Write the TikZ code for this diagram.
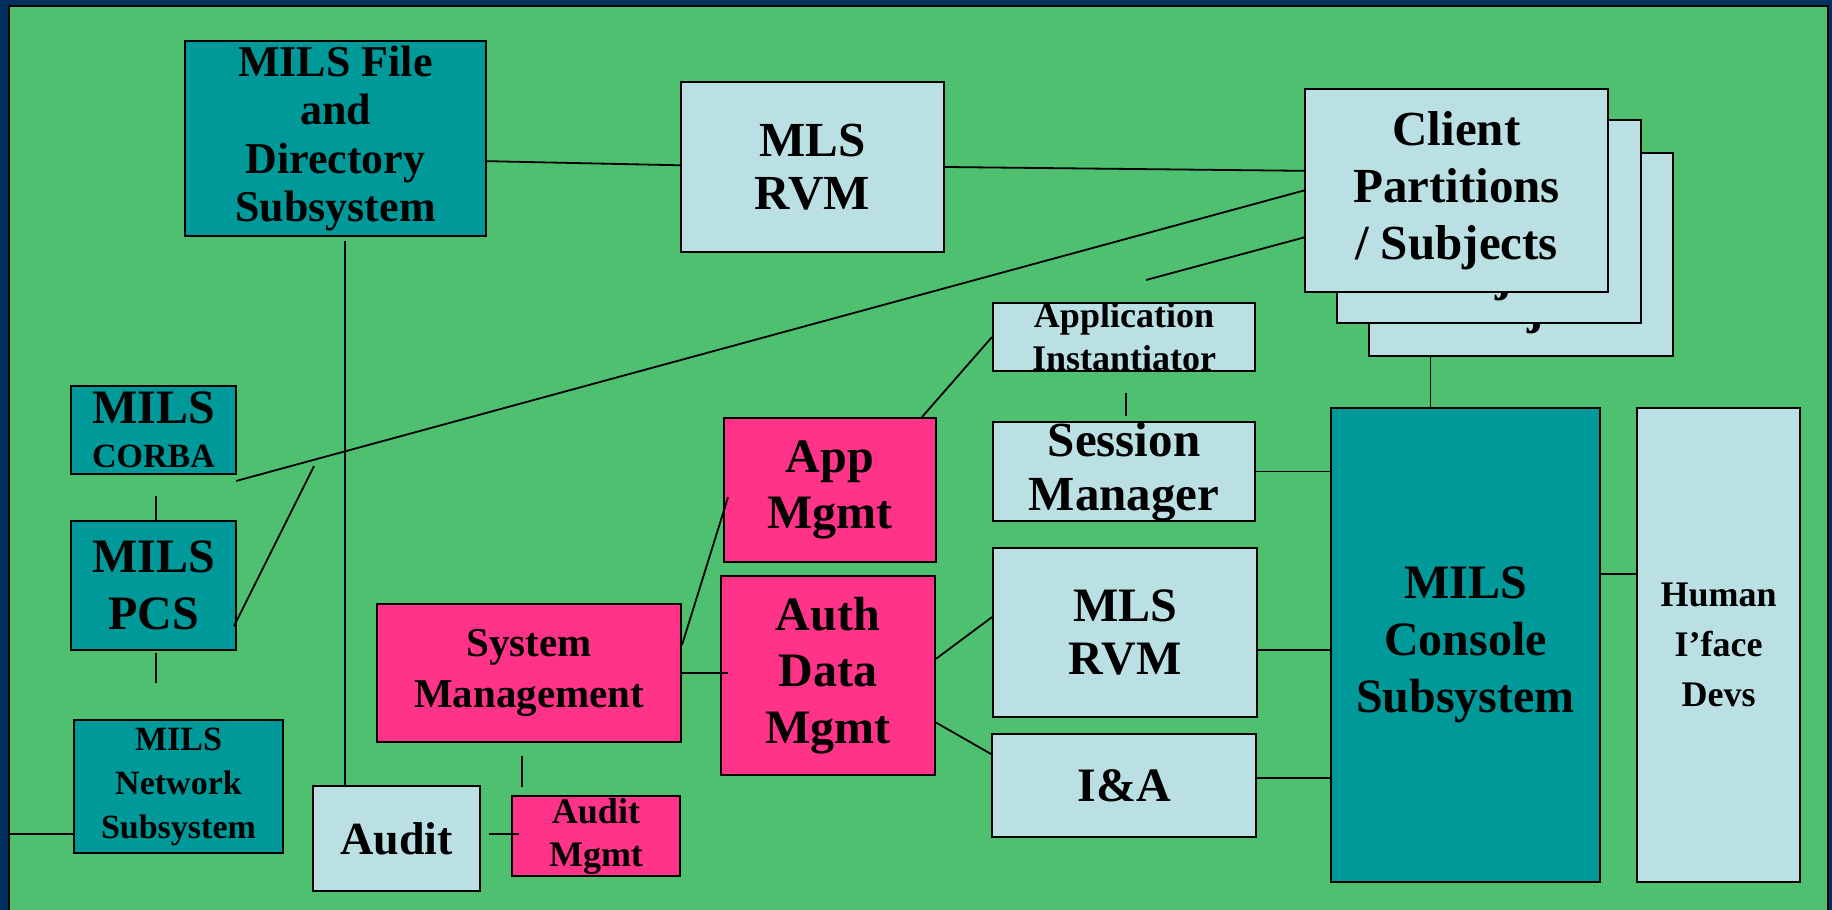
\documentclass[tikz,border=0pt]{standalone}
\usepackage{fontspec}
\setmainfont{Liberation Serif}
\usetikzlibrary{calc}
\definecolor{navyframe}{HTML}{00305E}
\definecolor{bggreen}{HTML}{4EC070}
\definecolor{tealfill}{HTML}{009999}
\definecolor{lightfill}{HTML}{BBE0E3}
\definecolor{pinkfill}{HTML}{FF3388}
\newcommand\setfs[2]{\fontsize{#1pt}{#2pt}\selectfont\bfseries}
\begin{document}
\begin{tikzpicture}[x=0.5pt,y=-0.5pt,
  box/.style={draw=black, line width=1pt, inner sep=0pt, align=center, text=black},
  tealbox/.style={box, fill=tealfill},
  lightbox/.style={box, fill=lightfill},
  pinkbox/.style={box, fill=pinkfill},
  wire/.style={draw=black, line width=0.9pt},
]
% frame and background
\useasboundingbox (0,0) rectangle (1832,910);
\clip (0,0) rectangle (1832,910);
\fill[navyframe] (0,0) rectangle (1832,910);
\filldraw[fill=bggreen, draw=black, line width=1pt] (9,6) rectangle (1828,930);

% file subsystem and top RVM
\node[tealbox, minimum width=150.5pt, minimum height=97.5pt, font={\setfs{22}{24.3}}] (file) at (335.5,138.5) {MILS File\\and\\Directory\\Subsystem};
\node[lightbox, minimum width=131.5pt, minimum height=85pt, font={\setfs{24.5}{26.5}}] (rvmtop) at (812.5,167) {MLS\\RVM};

% stacked client partitions
\node[lightbox, minimum width=152pt, minimum height=101.5pt, font={\setfs{24.5}{28.5}}] (client3) at (1521,254.5) {Client\\Partitions\\/ Subjects};
\node[lightbox, minimum width=152pt, minimum height=101.5pt, font={\setfs{24.5}{28.5}}] (client2) at (1489,221.5) {Client\\Partitions\\/ Subjects};
\node[lightbox, minimum width=151.5pt, minimum height=101.5pt, font={\setfs{24.5}{28.5}}] (client1) at (1456.5,190.5) {Client\\Partitions\\/ Subjects};

\node[lightbox, minimum width=131pt, minimum height=33pt, font={\setfs{18}{21.5}}] (inst) at (1124,337) {Application\\Instantiator};

% left column
\node[tealbox, minimum width=82.5pt, minimum height=44pt, font={\setfs{24}{22}}] (corba) at (153.5,430) {MILS\\{\setfs{17}{22}CORBA}};
\node[tealbox, minimum width=82.5pt, minimum height=64.5pt, font={\setfs{24}{28.5}}] (pcs) at (153.5,585.5) {MILS\\PCS};
\node[tealbox, minimum width=104.5pt, minimum height=66.5pt, font={\setfs{17}{22}}] (net) at (178.5,786.5) {MILS\\Network\\Subsystem};

% audit
\node[lightbox, minimum width=83.5pt, minimum height=52.5pt, font={\setfs{23}{26}}] (audit) at (396.5,838.5) {Audit};
\node[pinkbox, minimum width=84pt, minimum height=40pt, font={\setfs{18}{21.5}}] (auditm) at (596,836) {Audit\\Mgmt};

% management
\node[pinkbox, minimum width=152pt, minimum height=69pt, font={\setfs{20.5}{25.5}}] (sysm) at (529,673) {System\\Management};
\node[pinkbox, minimum width=106pt, minimum height=72pt, font={\setfs{24}{28}}] (appm) at (830,490) {App\\Mgmt};
\node[pinkbox, minimum width=107pt, minimum height=99.5pt, font={\setfs{24}{28.25}}] (auth) at (828,675.5) {Auth\\Data\\Mgmt};

% middle column
\node[lightbox, minimum width=131pt, minimum height=47.5pt, font={\setfs{24.5}{27}}] (sess) at (1124,471.5) {Session\\Manager};
\node[lightbox, minimum width=132pt, minimum height=84.5pt, font={\setfs{24}{26.5}}] (rvm2) at (1125,632.5) {MLS\\RVM};
\node[lightbox, minimum width=132pt, minimum height=51.5pt, font={\setfs{24}{28}}] (ia) at (1124,785.5) {I\&A};

% console and devices
\node[tealbox, minimum width=134.5pt, minimum height=237pt, font={\setfs{24}{28.5}}] (console) at (1465.5,645) {MILS\\Console\\Subsystem};
\node[lightbox, minimum width=81.5pt, minimum height=237pt, font={\setfs{18}{25}}] (human) at (1718.5,645) {Human\\I’face\\Devs};

% connectors
\draw[wire] ($(file.north east)!0.615!(file.south east)$) -- ($(rvmtop.north west)!0.49!(rvmtop.south west)$);
\draw[wire] (rvmtop.east) -- ($(client1.north west)!0.404!(client1.south west)$);
\coordinate (corbaend) at (236,481);
\draw[wire] (client1.west) -- (corbaend);
\coordinate (instlead) at (1146,280);
\draw[wire] ($(client1.north west)!0.729!(client1.south west)$) -- (instlead);
\coordinate (pcslead) at (314,466);
\draw[wire] ($(pcs.north east)!0.81!(pcs.south east)+(-3,0)$) -- (pcslead);
\coordinate (corbatail) at (156,496);
\draw[wire] (corbatail) -- (corbatail |- pcs.north);
\coordinate (pcstailA) at (156,653);
\coordinate (pcstailB) at (156,683);
\draw[wire] (pcstailA) -- (pcstailB);
\coordinate (leftedge) at (9,834);
\draw[wire] (leftedge) -- (leftedge -| net.west);
\coordinate (filetail) at (345,241);
\draw[wire] (filetail) -- (filetail |- audit.north);
\coordinate (auditlead) at (489,834);
\draw[wire] (auditlead) -- ($(auditlead -| auditm.west)+(8,0)$);
\coordinate (smtailA) at (522,756);
\coordinate (smtailB) at (522,787);
\draw[wire] (smtailA) -- (smtailB);
\draw[wire] ($(sysm.north east)!0.3!(sysm.south east)$) -- ($(appm.north west)!0.55!(appm.south west)+(5,0)$);
\draw[wire] (sysm.east) -- ($(sysm.east -| auth.west)+(8,0)$);
\draw[wire] ($(auth.north east)!0.417!(auth.south east)$) -- ($(rvm2.north west)!0.41!(rvm2.south west)$);
\draw[wire] ($(auth.north east)!0.734!(auth.south east)$) -- ($(ia.north west)!0.2!(ia.south west)$);
\draw[wire] (sess.east) -- (sess.east -| console.west);
\draw[wire] ($(rvm2.north east)!0.6!(rvm2.south east)$) coordinate (rvmc) -- (rvmc -| console.west);
\draw[wire] ($(ia.north east)!0.43!(ia.south east)$) coordinate (iac) -- (iac -| console.west);
\draw[wire] ($(console.north east)!0.35!(console.south east)$) coordinate (ch) -- (ch -| human.west);
\draw[wire] ($(client3.south west)!0.204!(client3.south east)$) coordinate (cc) -- (cc |- console.north);
\draw[wire] ($(appm.north west)!0.93!(appm.north east)$) -- (inst.west);
\coordinate (insttailA) at (1126,393);
\coordinate (insttailB) at (1126,416);
\draw[wire] (insttailA) -- (insttailB);
\end{tikzpicture}
\end{document}
